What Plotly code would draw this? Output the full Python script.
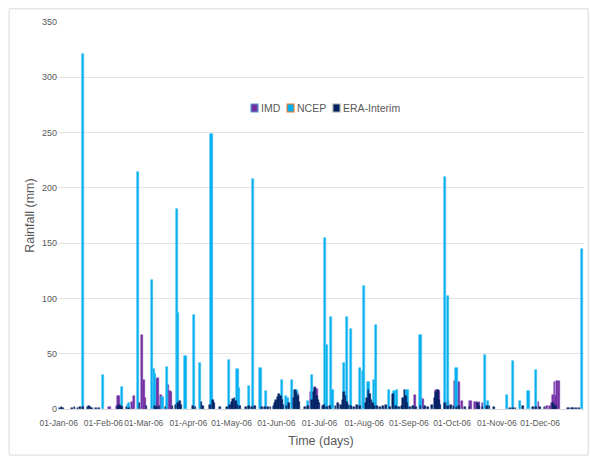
import pandas as pd
import plotly.graph_objects as go

# Daily rainfall for 2006; each series is listed as (day of year index, mm).
# Day index 0 = 01-Jan-06. Days not listed had no rain.
imd_day = [35, 36, 40, 41, 42, 43, 51, 52, 58, 59, 60, 68, 69, 71, 76, 77, 78,
           165, 166, 175, 178, 179, 247, 253, 262, 263, 264, 270, 275, 276,
           278, 280, 285, 286, 289, 290, 292, 294, 333, 339, 341,
           342, 343, 344, 345, 346, 347]
imd_mm = [2, 2, 3, 12, 12, 4, 6, 12, 67, 26, 10, 27, 28, 13, 22, 16, 15,
          5, 14, 15, 20, 18, 13, 9, 17, 17, 16, 7, 25, 22,
          24, 7, 7, 7, 6, 6, 6, 5, 6, 3, 3,
          5, 13, 24, 12, 25, 25]

ncep_day = [17, 31, 44, 48, 49, 55, 65, 66, 67, 72, 75, 82, 83, 88, 94, 98,
            106, 118, 124, 125, 132, 135, 140, 144, 155, 158, 159, 162, 165,
            173, 176, 185, 186, 189, 190, 198, 200, 203, 209, 211, 212, 215,
            219, 220, 229, 233, 235, 241, 242, 251, 268, 270, 276, 296, 298,
            311, 315, 320, 326, 331, 363]
ncep_mm = [321, 31, 20, 4, 5, 214, 117, 36, 32, 11, 38, 181, 87, 48, 85, 42,
           249, 44, 36, 19, 21, 208, 37, 16, 26, 12, 10, 26, 17,
           7, 31, 155, 58, 83, 17, 42, 83, 72, 37, 34, 111, 24,
           26, 76, 17, 16, 17, 17, 17, 67, 210, 102, 37, 49, 7,
           13, 43, 7, 16, 35, 145]

era_day = [1, 2, 3, 9, 11, 13, 15, 17, 20, 21, 22, 23, 26, 28, 41, 42, 43, 44,
           47, 49, 56, 61, 67, 68, 70, 74, 79, 81, 83, 84, 85, 93, 95, 99, 100,
           105, 107, 108, 112, 117, 119, 120, 121, 122, 123, 124, 126,
           130, 132, 134, 136, 141, 143, 145, 147,
           149, 150, 151, 152, 153, 154, 155, 156, 158, 160, 163, 164, 165,
           166, 167, 171, 173, 176, 177, 178, 179, 180, 181, 183, 184, 186,
           188, 192, 194, 196, 197, 198, 199, 200, 201, 203, 205, 207, 209,
           213, 214, 215, 216, 217, 218, 219, 221, 223, 225, 227, 230, 232,
           234, 236, 238, 239, 240, 241, 242, 244, 246, 248, 251, 254, 256,
           259, 261, 262, 263, 264, 265, 268, 270, 272, 274, 276, 278, 282,
           285, 291, 292, 294, 297, 299, 302, 313, 315, 317, 322, 329, 331,
           334, 337, 343, 344, 345, 353, 354, 356, 357, 359, 361]
era_mm = [1, 2, 1, 1, 2, 1, 2, 2, 2, 3, 2, 1, 1, 1, 2, 4, 3, 2,
          2, 1, 5, 3, 3, 2, 3, 2, 3, 4, 5, 7, 4, 3, 2, 6, 3,
          4, 8, 5, 2, 2, 4, 6, 9, 10, 7, 4, 3,
          2, 3, 2, 3, 2, 2, 2, 2,
          3, 5, 8, 11, 14, 12, 8, 4, 3, 5, 10, 17, 15,
          12, 6, 2, 3, 8, 15, 19, 12, 8, 5, 3, 4, 2,
          3, 3, 5, 4, 8, 15, 12, 6, 4, 3, 2, 4, 3,
          5, 10, 17, 14, 8, 5, 3, 3, 2, 3, 4, 2, 14,
          3, 2, 3, 10, 17, 12, 5, 2, 3, 2, 3, 3, 2,
          4, 10, 15, 17, 8, 4, 5, 3, 4, 3, 2, 3, 2,
          2, 5, 3, 2, 3, 3, 2, 1, 1, 1, 3, 2, 2,
          2, 2, 5, 4, 3, 1, 1, 1, 1, 1, 1]

month_ticks = ["2006-%02d-01" % m for m in range(1, 13)]
month_labels = ["01-Jan-06", "01-Feb-06", "01-Mar-06", "01-Apr-06",
                "01-May-06", "01-Jun-06", "01-Jul-06", "01-Aug-06",
                "01-Sep-06", "01-Oct-06", "01-Nov-06", "01-Dec-06"]

series_names = ["IMD", "NCEP", "ERA-Interim"]
series_fill = ["#7030A0", "#00B0F0", "#002060"]
series_edge = ["#5B9BD5", "#ED7D31", "#A5A5A5"]

start = pd.Timestamp("2006-01-01")
DAY_MS = 86400000
TEXT = "#595959"
FONT = "Liberation Sans, Arial, sans-serif"


def to_dates(days):
    return [start + pd.Timedelta(days=d) for d in days]


fig = go.Figure()
fig.add_trace(go.Bar(
    x=to_dates(imd_day), y=imd_mm, name=series_names[0], width=DAY_MS * 1.2,
    marker=dict(color=series_fill[0], line=dict(color="#7A3DB0", width=0.5)),
))
fig.add_trace(go.Bar(
    x=to_dates(ncep_day), y=ncep_mm, name=series_names[1], width=DAY_MS * 1.5,
    marker=dict(color=series_fill[1], line=dict(color="#3CC0F2", width=0.6)),
))
fig.add_trace(go.Bar(
    x=to_dates(era_day), y=era_mm, name=series_names[2], width=DAY_MS * 1.2,
    marker=dict(color=series_fill[2], line=dict(color="#0A2A6E", width=0.5)),
))

# Compact legend row inside the plot: small outlined swatches plus labels
shapes = []
annotations = []
swatch_x = [251, 287, 333]          # pixel positions of swatches
PL, PW, PT, PH = 58, 526, 22, 387    # plot area left/width/top/height in px
legend_y = 108
for name, fill, edge, sx in zip(series_names, series_fill, series_edge, swatch_x):
    x0 = (sx - PL) / PW
    x1 = (sx + 7 - PL) / PW
    y0 = (PT + PH - (legend_y + 4)) / PH
    y1 = (PT + PH - (legend_y - 4)) / PH
    shapes.append(dict(type="rect", xref="paper", yref="paper",
                       x0=x0, x1=x1, y0=y0, y1=y1, fillcolor=fill,
                       line=dict(color=edge, width=1.2)))
    annotations.append(dict(text=name, xref="paper", yref="paper",
                            x=(sx + 9 - PL) / PW,
                            y=(PT + PH - legend_y) / PH,
                            xanchor="left", yanchor="middle", showarrow=False,
                            borderpad=0,
                            font=dict(family=FONT, size=10.5, color=TEXT)))

# Light frame around the whole chart
shapes.append(dict(type="rect", xref="paper", yref="paper",
                   x0=-0.093, x1=1.008, y0=-0.119, y1=1.034,
                   line=dict(color="#D9D9D9", width=1),
                   fillcolor="rgba(0,0,0,0)", layer="below"))

fig.update_layout(
    width=590, height=459,
    margin=dict(l=58, r=6, t=22, b=50),
    barmode="overlay",
    bargap=0,
    paper_bgcolor="white",
    plot_bgcolor="white",
    font=dict(family=FONT, color=TEXT, size=9),
    showlegend=False,
    xaxis=dict(
        type="date",
        range=["2005-12-31 12:00", "2006-12-31 12:00"],
        tickmode="array", tickvals=month_ticks, ticktext=month_labels,
        tickangle=0,
        tickfont=dict(family=FONT, size=8.5, color=TEXT),
        ticklabelstandoff=6,
        showgrid=False, showline=True, linecolor="#D9D9D9", linewidth=1,
        ticks="",
        title=dict(text="Time (days)", font=dict(family=FONT, size=12.5, color=TEXT),
                   standoff=9),
    ),
    yaxis=dict(
        range=[0, 350], dtick=50,
        tickfont=dict(family=FONT, size=9, color=TEXT),
        showgrid=True, gridcolor="#E3E3E3", gridwidth=1,
        zeroline=False, showline=False, ticks="",
        title=dict(text="Rainfall (mm)", font=dict(family=FONT, size=12.5, color=TEXT),
                   standoff=4),
    ),
    shapes=shapes,
    annotations=annotations,
)

fig.write_html("out.html")
